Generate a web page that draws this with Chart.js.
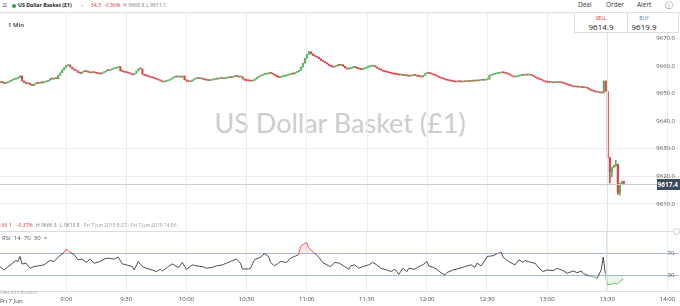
<!DOCTYPE html>
<html>
<head>
<meta charset="utf-8">
<script src="https://cdn.jsdelivr.net/npm/chart.js@4.4.1/dist/chart.umd.min.js"></script>
<style>
  html, body { margin: 0; padding: 0; background: #fff; }
  body { width: 680px; height: 306px; position: relative; overflow: hidden; font-family: "Open Sans", Arial, sans-serif; }
  .t { position: absolute; white-space: nowrap; line-height: 1; color: #333; }
  .red { color: #d8343a; }
  .grey { color: #777; }
  #hdr { position: absolute; left: 0; top: 0; width: 680px; height: 12px; border-bottom: 1px solid #e2e2e2; box-shadow: 0 1px 2px rgba(0,0,0,0.05); }
  #dot { position: absolute; left: 12px; top: 3.5px; width: 4px; height: 4px; border-radius: 50%; background: #2ea043; }
  #quote { position: absolute; left: 574px; top: 13px; width: 105px; height: 20px; border: 1px solid #ddd; border-top: none; box-sizing: border-box; background: #fff; z-index: 3; }
  #quote .div { position: absolute; left: 52px; top: 0; width: 1px; height: 19px; background: #ddd; }
  #watermark { position: absolute; left: 0; width: 680px; top: 106px; text-align: center; font-family: Lato, sans-serif; font-size: 27px; color: #cdcdcd; z-index: 0; }
  canvas { position: absolute; left: 0; z-index: 1; }
  #main { top: 13px; }
  #rsi { top: 231px; }
  .over { z-index: 2; }
  #sep { position: absolute; left: 0; top: 231px; width: 673px; height: 1px; background: #dcdcdc; z-index: 2; }
  #handle { position: absolute; left: 673px; top: 228px; width: 5px; height: 5px; border: 1px solid #ccc; border-radius: 50%; background: #fff; z-index: 2; }
</style>
</head>
<body>
<div id="hdr"></div>
<span class="t grey" style="left:2px;top:0px;font-size:9px">≡</span>
<div id="dot"></div>
<span class="t" style="left:18px;top:3px;font-size:5.2px;font-weight:700;color:#222">US Dollar Basket (£1)</span>
<span class="t grey" style="left:80px;top:2px;font-size:5px">⌄</span>
<span class="t red" style="left:89px;top:3px;font-size:5.2px">-34.3</span>
<span class="t red" style="left:104px;top:3px;font-size:5.2px">-0.36%</span>
<span class="t grey" style="left:123px;top:3px;font-size:5.2px">H 9668.8</span>
<span class="t grey" style="left:146px;top:3px;font-size:5.2px">L 9611.1</span>
<span class="t" style="left:578px;top:2px;font-size:6.5px">Deal</span>
<span class="t" style="left:606px;top:2px;font-size:6.5px">Order</span>
<span class="t" style="left:637px;top:2px;font-size:6.5px">Alert</span>
<span class="t grey" style="left:665px;top:1px;font-size:8px">ⓘ</span>

<div id="quote"><div class="div"></div>
  <span class="t red" style="left:0;width:52px;text-align:center;top:3px;font-size:5px">SELL</span>
  <span class="t" style="left:0;width:52px;text-align:center;top:10px;font-size:8px;color:#222">9614.9</span>
  <span class="t" style="left:53px;width:32px;text-align:center;top:3px;font-size:5px;color:#4f7fc2">BUY</span>
  <span class="t" style="left:53px;width:32px;text-align:center;top:10px;font-size:8px;color:#222">9619.9</span>
</div>

<span class="t over" style="left:8px;top:22px;font-size:6px;font-weight:600">1 Min</span>
<div id="watermark">US Dollar Basket (£1)</div>

<canvas id="main" width="680" height="218"></canvas>
<canvas id="rsi" width="680" height="75"></canvas>

<span class="t red over" style="left:0px;top:223px;font-size:5px">-36.1</span>
<span class="t red over" style="left:17px;top:223px;font-size:5px">-0.37%</span>
<span class="t grey over" style="left:36px;top:223px;font-size:5px">H 9666.3</span>
<span class="t grey over" style="left:60px;top:223px;font-size:5px">L 9613.8</span>
<span class="t grey over" style="left:84px;top:223px;font-size:5px;color:#999">Fri 7 Jun 2019 8:27 - Fri 7 Jun 2019 14:06</span>
<div id="sep"></div><div id="handle"></div>
<span class="t over" style="left:2px;top:235px;font-size:6px;color:#555">RSI&nbsp; 14&nbsp; 70&nbsp; 30&nbsp; ×</span>
<span class="t over" style="left:0px;top:290px;font-size:4.5px;color:#aaa">View all indicators</span>
<span class="t over" style="left:0px;top:298px;font-size:6px;color:#444">Fri 7 Jun</span>

<script>
// time range in minutes since midnight
const startMinute = 507;   // 8:27
const endMinute = 846;     // 14:06
const timeTicks = [540, 570, 600, 630, 660, 690, 720, 750, 780, 810, 840];
const priceTicks = [9610, 9620, 9630, 9640, 9650, 9660, 9670];
const rsiTicks = [30, 70];

// 1 minute closes from 8:27
const firstOpen = 9653.9;
const closes = [
  9654.2, 9654.0, 9653.7, 9653.9, 9654.3, 9654.6, 9655.0, 9655.2, 9655.5, 9655.8, 9656.4, 9654.6, 9654.0, 9653.6, 9653.8, 9653.2, 9652.9,
  9653.5, 9653.8, 9653.7, 9654.0, 9653.9, 9654.2, 9654.4, 9654.8, 9655.4, 9655.2, 9655.6, 9655.4, 9656.6, 9657.5, 9658.6, 9659.4,
  // 9:00
  9660.1, 9660.4, 9659.6, 9659.0, 9658.5, 9658.2, 9657.6, 9657.3, 9657.9, 9658.3, 9658.0, 9657.7, 9657.5, 9657.9, 9657.6,
  9657.3, 9657.2, 9657.1, 9657.6, 9658.0, 9658.4, 9658.3, 9658.7, 9659.0, 9659.2, 9659.4, 9659.8, 9658.2, 9658.0, 9657.7,
  // 9:30
  9657.6, 9657.4, 9657.1, 9656.8, 9657.3, 9658.2, 9659.0, 9658.9, 9657.0, 9656.5, 9656.4, 9656.1, 9655.9, 9655.7, 9655.4,
  9655.2, 9654.9, 9654.6, 9654.2, 9654.4, 9654.6, 9654.9, 9655.3, 9655.8, 9656.1, 9656.0, 9656.2, 9655.9, 9656.4, 9655.0,
  // 10:00
  9654.5, 9654.3, 9654.5, 9655.0, 9655.4, 9655.6, 9655.4, 9655.5, 9655.2, 9655.0, 9654.8, 9654.7, 9654.9, 9655.0, 9655.3,
  9655.2, 9655.5, 9655.6, 9655.4, 9655.5, 9655.7, 9655.9, 9655.8, 9656.1, 9656.3, 9656.2, 9656.0, 9656.1, 9655.3, 9654.8,
  // 10:30
  9654.7, 9654.6, 9654.5, 9654.8, 9655.3, 9655.9, 9656.3, 9656.6, 9656.9, 9657.0, 9657.2, 9657.4, 9657.3, 9657.0, 9656.6,
  9656.0, 9655.8, 9656.1, 9656.3, 9656.4, 9656.7, 9656.9, 9657.3, 9657.1, 9657.6, 9657.9, 9658.4, 9659.6, 9661.0, 9662.8,
  // 11:00
  9664.2, 9665.2, 9664.4, 9663.8, 9663.5, 9663.1, 9662.6, 9662.0, 9661.6, 9661.2, 9660.7, 9660.2, 9659.8, 9659.6, 9659.9,
  9660.3, 9660.2, 9660.5, 9659.9, 9659.3, 9658.9, 9659.0, 9659.3, 9659.6, 9659.4, 9659.1, 9658.9, 9658.7, 9659.0, 9659.3,
  // 11:30
  9659.6, 9659.8, 9659.9, 9660.0, 9659.7, 9659.2, 9658.8, 9658.5, 9658.1, 9657.9, 9657.7, 9657.5, 9657.3, 9657.1, 9657.0,
  9656.9, 9656.7, 9656.8, 9656.5, 9656.6, 9656.4, 9656.3, 9656.5, 9656.7, 9656.6, 9656.3, 9656.2, 9656.0, 9656.6, 9657.3,
  // 12:00
  9657.6, 9657.3, 9657.1, 9656.8, 9656.6, 9656.2, 9655.8, 9655.5, 9655.3, 9655.0, 9654.8, 9654.6, 9654.5, 9654.4, 9654.2,
  9654.4, 9654.3, 9654.2, 9654.4, 9654.3, 9654.5, 9654.4, 9654.6, 9654.5, 9654.7, 9654.6, 9654.8, 9654.9, 9654.8, 9655.0,
  // 12:30
  9655.2, 9656.6, 9656.8, 9657.0, 9657.2, 9657.3, 9657.5, 9657.6, 9657.5, 9657.3, 9657.1, 9656.8, 9656.4, 9656.0, 9656.1,
  9656.3, 9656.5, 9656.7, 9656.6, 9656.8, 9656.7, 9656.9, 9656.6, 9656.2, 9655.8, 9655.4, 9655.1, 9654.9, 9654.5, 9654.2,
  // 13:00
  9654.1, 9654.0, 9654.1, 9653.9, 9654.1, 9654.0, 9654.2, 9653.9, 9653.7, 9653.4, 9653.1, 9652.9, 9652.7, 9652.4, 9652.5,
  9652.3, 9652.4, 9652.2, 9652.1, 9652.3, 9651.8, 9651.3, 9651.0, 9650.8, 9650.5, 9650.6, 9650.3, 9650.2, 9654.6, 9650.8,
  // 13:30
  9626.8, 9621.8, 9623.2, 9624.0, 9624.4, 9614.3, 9617.2, 9618.2, 9617.4
];

// visible wicks after the drop
const wickMinutes = [811, 812, 814, 815, 816];
const wickLows = [9617.6, 9619.8, 9623.6, 9613.5, 9613.2];
const wickHighs = [9626.8, 9623.2, 9625.8, 9624.4, 9617.5];

// RSI 14
const rsiMinutes = [
  507, 509, 510, 512, 515, 516, 517, 518, 520, 522, 524, 526, 529, 532, 534, 536, 539, 540, 542, 544,
  546, 548, 550, 552, 554, 557, 559, 561, 564, 566, 568, 570, 573, 574, 576, 578, 580, 583, 585, 587,
  588, 591, 593, 596, 598, 600, 603, 605, 608, 610, 613, 615, 618, 620, 622, 625, 627, 628, 631, 632,
  634, 637, 639, 641, 642, 644, 646, 647, 650, 652, 654, 656, 657, 660, 661, 664, 666, 668, 671, 672,
  674, 676, 679, 681, 682, 684, 686, 688, 691, 693, 695, 697, 700, 702, 704, 706, 708, 710, 711, 714,
  716, 718, 720, 721, 723, 725, 727, 729, 730, 733, 735, 738, 740, 742, 744, 745, 747, 749, 750, 753,
  755, 757, 758, 760, 763, 764, 766, 768, 769, 772, 774, 776, 778, 780, 783, 785, 788, 790, 793, 795,
  797, 798, 801, 803, 805, 807, 808, 809, 810, 812, 814, 815, 817, 818
];
const rsiValues = [
  45.4, 39.0, 42.0, 48.0, 56.5, 54.6, 63.8, 50.0, 51.5, 42.3, 45.4, 46.6, 48.5, 56.5, 54.6, 62.6, 71.2, 77.4, 71.2, 67.0,
  57.7, 59.0, 52.8, 59.0, 51.5, 54.6, 59.0, 60.8, 59.0, 62.6, 50.3, 48.5, 45.4, 39.2, 54.6, 45.4, 42.3, 39.2, 36.2, 40.5,
  37.4, 45.4, 50.3, 43.5, 52.8, 40.5, 48.5, 46.6, 45.4, 42.3, 44.0, 46.6, 48.5, 51.5, 54.6, 59.0, 51.5, 41.0, 41.0, 42.3,
  57.7, 62.6, 68.8, 63.8, 52.8, 46.6, 51.5, 54.6, 52.8, 60.8, 63.8, 67.0, 82.3, 89.7, 79.2, 70.0, 62.6, 52.8, 46.6, 45.4,
  52.8, 52.0, 45.4, 40.5, 46.6, 48.5, 42.3, 45.4, 48.5, 52.8, 48.5, 42.3, 39.2, 36.2, 40.5, 31.2, 42.3, 36.2, 42.3, 40.5,
  45.4, 48.5, 54.6, 46.6, 44.0, 40.5, 34.3, 30.0, 34.3, 39.2, 41.0, 44.0, 46.6, 48.5, 44.0, 51.5, 46.6, 56.5, 63.8, 65.0,
  68.8, 71.8, 62.6, 56.5, 50.3, 48.5, 57.7, 52.8, 56.5, 52.8, 51.5, 42.3, 36.2, 39.2, 38.0, 42.3, 38.0, 33.1, 37.4, 34.3,
  37.4, 33.1, 28.2, 27.0, 24.0, 39.2, 62.6, 33.1, 12.8, 13.4, 15.8, 13.4, 20.8, 22.0
];

// crosshair (last price)
const crossMinute = 809.5;
const crossPrice = 9617.4;

const UP = "#55b15a";
const DOWN = "#dc4146";
const fmtTime = (m) => Math.floor(m / 60) + ":" + String(m % 60).padStart(2, "0");

const opens = closes.map((c, i) => (i === 0 ? firstOpen : closes[i - 1]));
const bodies = closes.map((c, i) => ({ x: startMinute + i, y: [opens[i], c] }));
const bodyColors = closes.map((c, i) => (c >= opens[i] ? UP : DOWN));
const wicks = wickMinutes.map((m, i) => ({ x: m, y: [wickLows[i], wickHighs[i]] }));
const wickColors = wickMinutes.map((m) => bodyColors[m - startMinute]);
const rsiPoints = rsiMinutes.map((m, i) => ({ x: m, y: rsiValues[i] }));

const crosshair = {
  id: "crosshair",
  afterDatasetsDraw(chart, args, opts) {
    const { ctx, chartArea: a, scales } = chart;
    const x = Math.round(scales.x.getPixelForValue(crossMinute)) + 0.5;
    ctx.save();
    ctx.strokeStyle = "#e2e2e2";
    ctx.lineWidth = 1;
    ctx.beginPath();
    ctx.moveTo(x, a.top);
    ctx.lineTo(x, a.bottom);
    ctx.stroke();
    if (opts.price) {
      const y = Math.round(scales.y.getPixelForValue(crossPrice)) + 0.5;
      ctx.strokeStyle = "#cccccc";
      ctx.beginPath();
      ctx.moveTo(a.left, y);
      ctx.lineTo(a.right, y);
      ctx.stroke();
      ctx.fillStyle = "#3d4b5e";
      ctx.fillRect(a.right - 23, y - 5.5, 23, 11);
      ctx.fillStyle = "#fff";
      ctx.font = "bold 6.5px 'Open Sans'";
      ctx.textAlign = "right";
      ctx.textBaseline = "middle";
      ctx.fillText(crossPrice.toFixed(1), a.right - 2, y + 0.5);
    }
    ctx.restore();
  },
};

const xScale = (showLabels) => ({
  type: "linear",
  min: startMinute,
  max: endMinute,
  offset: false,
  grid: { offset: false, color: "#ededed", drawTicks: false },
  border: { display: showLabels, color: "#e2e2e2" },
  ticks: {
    display: showLabels,
    autoSkip: false,
    maxRotation: 0,
    padding: 5,
    color: "#444",
    font: { size: 6, family: "Open Sans" },
    callback: (v) => fmtTime(v),
  },
  afterBuildTicks: (s) => { s.ticks = timeTicks.map((v) => ({ value: v })); },
  afterFit: (s) => { s.height = showLabels ? 15 : 0; },
});

new Chart(document.getElementById("main"), {
  type: "bar",
  data: {
    datasets: [
      { data: bodies, backgroundColor: bodyColors, barThickness: 1.4, minBarLength: 1.1, grouped: false },
      { data: wicks, backgroundColor: wickColors, barThickness: 1, grouped: false },
    ],
  },
  options: {
    responsive: false,
    animation: false,
    events: [],
    layout: { padding: 0 },
    plugins: { legend: { display: false }, tooltip: { enabled: false }, crosshair: { price: true } },
    scales: {
      x: xScale(false),
      y: {
        position: "right",
        min: 9600.2,
        max: 9679.2,
        beginAtZero: false,
        border: { display: false },
        grid: {
          drawTicks: false,
          color: (c) => (c.tick && c.tick.value <= 9630 ? "#ececec" : "rgba(0,0,0,0)"),
        },
        ticks: {
          mirror: true,
          padding: -5,
          color: "#555",
          font: { size: 6, family: "Open Sans" },
          callback: (v) => Number(v).toFixed(1),
        },
        afterBuildTicks: (s) => { s.ticks = priceTicks.map((v) => ({ value: v })); },
        afterFit: (s) => { s.width = 0; },
      },
    },
  },
  plugins: [crosshair],
});

new Chart(document.getElementById("rsi"), {
  type: "line",
  data: {
    datasets: [
      {
        data: rsiPoints,
        borderColor: "#3a3a3a",
        borderWidth: 0.9,
        pointRadius: 0,
        tension: 0,
        fill: false,
        segment: {
          borderColor: (c) => {
            const mid = (c.p0.parsed.y + c.p1.parsed.y) / 2;
            return mid > 70 ? "#e0505a" : mid < 30 ? "#5cb85c" : "#3a3a3a";
          },
        },
      },
      {
        data: rsiPoints,
        borderWidth: 0,
        borderColor: "rgba(0,0,0,0)",
        pointRadius: 0,
        fill: { target: { value: 70 }, above: "rgba(230,80,90,0.12)", below: "rgba(0,0,0,0)" },
      },
      {
        data: rsiPoints,
        borderWidth: 0,
        borderColor: "rgba(0,0,0,0)",
        pointRadius: 0,
        fill: { target: { value: 30 }, above: "rgba(0,0,0,0)", below: "rgba(90,180,90,0.12)" },
      },
    ],
  },
  options: {
    responsive: false,
    animation: false,
    events: [],
    layout: { padding: 0 },
    plugins: { legend: { display: false }, tooltip: { enabled: false }, crosshair: { price: false } },
    scales: {
      x: xScale(true),
      y: {
        position: "right",
        min: 1,
        max: 110,
        border: { display: false },
        grid: { drawTicks: false, color: "#a7b8d8" },
        ticks: {
          mirror: true,
          padding: -5,
          color: "#555",
          font: { size: 6, family: "Open Sans" },
        },
        afterBuildTicks: (s) => { s.ticks = rsiTicks.map((v) => ({ value: v })); },
        afterFit: (s) => { s.width = 0; },
      },
    },
  },
  plugins: [crosshair],
});
</script>
</body>
</html>
